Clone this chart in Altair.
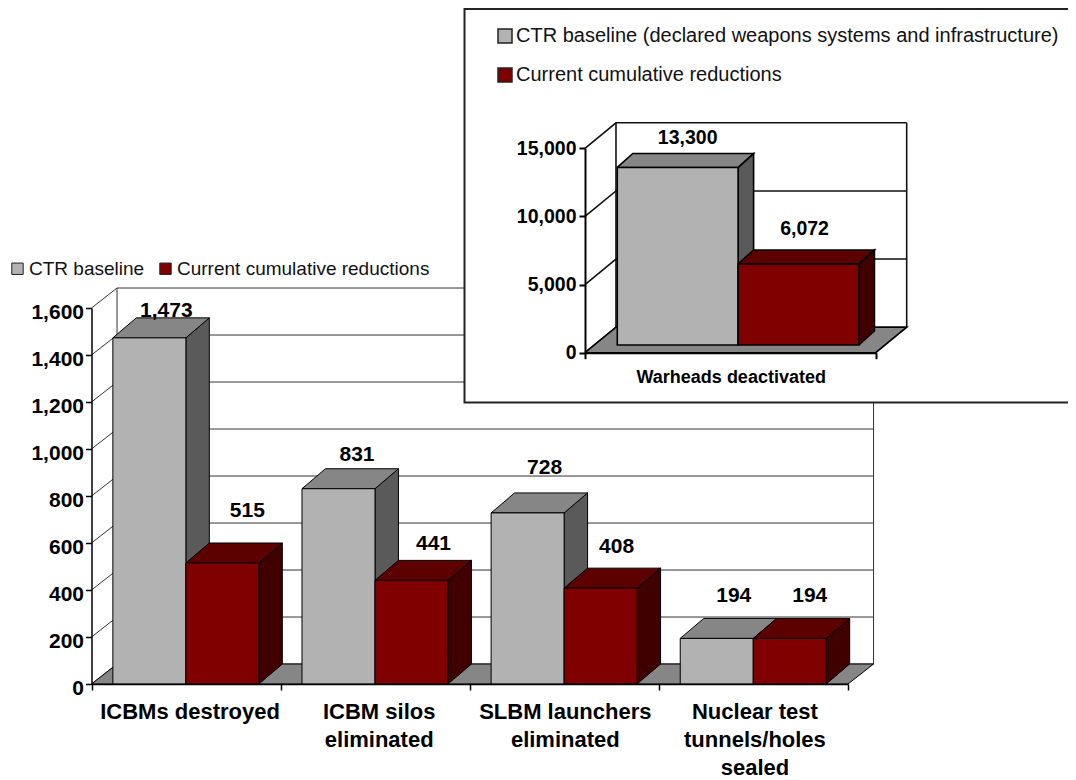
import altair as alt
import pandas as pd

# ---------- values ----------
categories = ["ICBMs destroyed", "ICBM silos\neliminated", "SLBM launchers\neliminated", "Nuclear test\ntunnels/holes\nsealed"]
baseline = [1473, 831, 728, 194]
reductions = [515, 441, 408, 194]
main_ticks = [0, 200, 400, 600, 800, 1000, 1200, 1400, 1600]
main_series = ["CTR baseline", "Current cumulative reductions"]

inset_category = "Warheads deactivated"
inset_baseline = [13300]
inset_reductions = [6072]
inset_ticks = [0, 5000, 10000, 15000]
inset_series = ["CTR baseline (declared weapons systems and infrastructure)", "Current cumulative reductions"]

# ---------- styling / layout ----------
FONT = "Liberation Sans"
GRAY, GRAY_TOP, GRAY_SIDE = "#B2B2B2", "#868686", "#5A5A5A"
RED, RED_TOP, RED_SIDE = "#800000", "#5C0000", "#400000"
FLOOR = "#868686"

M = dict(
    xdom=[0, 4], xrange=[83.5, 840], ydom=[0, 1600], yrange=[676, 300],
    ybar=[676, 300], wall_dx=0.135, wall_dv=85, bar_dx=0.124, bar_dv=85,
    start=0.113, bw=0.386, sw=1, grid="#333333",
)
N = dict(
    xdom=[0, 1], xrange=[577, 867.7], ydom=[0, 15000], yrange=[344.7, 140.3],
    ybar=[337, 136.75], wall_dx=0.1066, wall_dv=1871, bar_dx=0.0533, bar_dv=1049,
    start=0.111, bw=0.4157, sw=1.6, grid="#111111",
)

# label nudges, in pixels from the bar centre / bar top
main_nudge = {
    "a": [(17, 21), (18.5, 28), (17, 39), (17, 36)],
    "b": [(25, 46), (22, 30), (16, 35), (20, 36)],
}
inset_nudge = {"a": [(10, 23)], "b": [(6, 29)]}
cat_nudge = [4, 4, 1, 1.5]


def sx(c):
    return alt.Scale(domain=c["xdom"], range=c["xrange"], nice=False, zero=False)


def sy(c, bar=False):
    return alt.Scale(domain=c["ydom"], range=c["ybar"] if bar else c["yrange"], nice=False, zero=False)


def X(c, field="x", axis=None):
    return alt.X(f"{field}:Q", scale=sx(c), axis=axis, title=None)


def Y(c, field="y", bar=False, axis=None):
    return alt.Y(f"{field}:Q", scale=sy(c, bar), axis=axis, title=None)


def polygons(c, polys, color, bar=True):
    rows = []
    for i, pts in enumerate(polys):
        closed = list(pts) + [pts[0]]
        for k, (x, y) in enumerate(closed):
            rows.append(dict(id=i, k=k, x=x, y=y))
    return alt.Chart(pd.DataFrame(rows)).mark_line(
        fill=color, stroke="black", strokeWidth=c["sw"], interpolate="linear", strokeJoin="miter"
    ).encode(x=X(c), y=Y(c, bar=bar), detail="id:N", order="k:Q")


def side_polys(c, spans, vals):
    d, dv = c["bar_dx"], c["bar_dv"]
    return [[(b, 0), (b + d, dv), (b + d, v + dv), (b, v)] for (a, b), v in zip(spans, vals)]


def top_polys(c, spans, vals):
    d, dv = c["bar_dx"], c["bar_dv"]
    return [[(a, v), (b, v), (b + d, v + dv), (a + d, v + dv)] for (a, b), v in zip(spans, vals)]


def frame_layers(c, ticks, y_axis, x_axis, x_end):
    d, dv = c["wall_dx"], c["wall_dv"]
    floor = [[(0, 0), (x_end, 0), (x_end + d, dv), (d, dv)]]
    grid = []
    for t in ticks:
        grid += [
            dict(id=t, k=0, x=0, y=t),
            dict(id=t, k=1, x=d, y=t + dv),
            dict(id=t, k=2, x=x_end + d, y=t + dv),
        ]
    top = ticks[-1]
    for n, xv in enumerate([d, x_end + d]):
        grid += [dict(id=f"v{n}", k=0, x=xv, y=dv), dict(id=f"v{n}", k=1, x=xv, y=top + dv)]
    lines = alt.Chart(pd.DataFrame(grid)).mark_line(color=c["grid"], strokeWidth=c["sw"]).encode(
        x=X(c), y=Y(c), detail="id:N", order="k:Q"
    )
    ax = alt.Chart(pd.DataFrame({"x": [0], "y": [0]})).mark_point(opacity=0).encode(
        x=X(c, axis=x_axis), y=Y(c, axis=y_axis)
    )
    return [lines, polygons(c, floor, FLOOR, bar=False), ax]


def bars(c, vals_a, vals_b, n, names, legend, labels_nudge, label_size):
    pa = [c["start"] + i for i in range(n)]
    sa = [(p, p + c["bw"]) for p in pa]
    sb = [(p + c["bw"], p + 2 * c["bw"]) for p in pa]
    fronts = pd.DataFrame(
        [dict(x=a, x2=b, v=v, zero=0, s=names[0]) for (a, b), v in zip(sa, vals_a)]
        + [dict(x=a, x2=b, v=v, zero=0, s=names[1]) for (a, b), v in zip(sb, vals_b)]
    )
    fr = alt.Chart(fronts).mark_rect(stroke="black", strokeWidth=c["sw"]).encode(
        x=X(c), x2="x2:Q", y=Y(c, "zero", bar=True), y2="v:Q",
        color=alt.Color("s:N", scale=alt.Scale(domain=names, range=[GRAY, RED]), legend=legend),
    )

    xpp = (c["xrange"][1] - c["xrange"][0]) / (c["xdom"][1] - c["xdom"][0])
    ypp = (c["ybar"][0] - c["ybar"][1]) / (c["ydom"][1] - c["ydom"][0])
    rows = []
    for spans, vals, nudges in ((sa, vals_a, labels_nudge["a"]), (sb, vals_b, labels_nudge["b"])):
        for (a, b), v, (nx, ny) in zip(spans, vals, nudges):
            rows.append(dict(x=(a + b) / 2 + nx / xpp, y=v + ny / ypp, t=f"{v:,}"))
    text = alt.Chart(pd.DataFrame(rows)).mark_text(
        font=FONT, fontWeight="bold", fontSize=label_size, color="black", baseline="alphabetic"
    ).encode(x=X(c), y=Y(c, bar=True), text="t:N")

    return [
        polygons(c, side_polys(c, sa, vals_a), GRAY_SIDE),
        polygons(c, top_polys(c, sa, vals_a), GRAY_TOP),
        polygons(c, side_polys(c, sb, vals_b), RED_SIDE),
        polygons(c, top_polys(c, sb, vals_b), RED_TOP),
        fr,
        text,
    ]


def y_axis(values, size, offset, pad, lab_off, width):
    return alt.Axis(
        values=values, format=",d", orient="left", offset=offset, grid=False, title=None,
        labelFont=FONT, labelFontWeight="bold", labelFontSize=size, labelColor="black",
        tickColor="black", tickSize=6, tickWidth=width, domainColor="black", domainWidth=width,
        labelPadding=pad, labelOffset=lab_off, zindex=1,
    )


def x_axis(values, offset, width):
    return alt.Axis(
        values=values, labels=False, orient="bottom", offset=offset, grid=False, title=None,
        tickColor="black", tickSize=6, tickWidth=width, domainColor="black", domainWidth=width, zindex=1,
    )


H = 772
W = 1060

main_legend = alt.Legend(
    orient="none", legendX=0, legendY=251, direction="horizontal", title=None,
    symbolType="square", symbolSize=130, symbolStrokeColor="#222222", symbolStrokeWidth=1,
    labelFont=FONT, labelFontSize=19, labelColor="#111111", columnPadding=11, labelOffset=2, padding=0,
    labelLimit=600,
)
inset_legend = alt.Legend(
    orient="none", legendX=487, legendY=18, direction="vertical", title=None, columns=1,
    symbolType="square", symbolSize=196, symbolStrokeColor="#222222", symbolStrokeWidth=1.5,
    labelFont=FONT, labelFontSize=20, labelColor="#111111", rowPadding=19, labelOffset=1, padding=0,
    labelLimit=700,
)

main_layers = frame_layers(
    M, main_ticks,
    y_axis(main_ticks, 21, -83.5, 2, 4, 1.5),
    x_axis([0, 1, 2, 3, 4], 676 - H, 1.5),
    4,
)
main_layers += bars(M, baseline, reductions, 4, main_series, main_legend, main_nudge, 21)

cat_rows = [dict(x=i + 0.5 + cat_nudge[i] / 189, y=-150, t=t) for i, t in enumerate(categories)]
main_layers.append(
    alt.Chart(pd.DataFrame(cat_rows)).mark_text(
        font=FONT, fontWeight="bold", fontSize=22, color="black", baseline="alphabetic", lineBreak="\n", lineHeight=28
    ).encode(x=X(M), y=Y(M), text="t:N")
)

box = alt.Chart(alt.Data(values=[{"a": 1}])).mark_rect(fill="white", stroke="#222222", strokeWidth=2).encode(
    x=alt.value(456.5), x2=alt.value(1100), y=alt.value(1), y2=alt.value(394.5)
)

inset_layers = frame_layers(
    N, inset_ticks,
    y_axis(inset_ticks, 19.5, -577, 3, 0, 2),
    x_axis([0, 1], 344.7 - H, 2),
    1,
)
inset_layers += bars(N, inset_baseline, inset_reductions, 1, inset_series, inset_legend, inset_nudge, 19.5)
inset_layers.append(
    alt.Chart(pd.DataFrame([dict(x=0.503, y=-2200, t=inset_category)])).mark_text(
        font=FONT, fontWeight="bold", fontSize=18, color="black", baseline="alphabetic"
    ).encode(x=X(N), y=Y(N), text="t:N")
)

chart = alt.layer(*main_layers, box, *inset_layers).resolve_scale(
    x="independent", y="independent", color="independent"
).properties(
    width=W, height=H, autosize="none", padding=0, background="white"
).configure_view(stroke=None)

chart.save("out.html", embed_options={"renderer": "svg", "actions": False})
